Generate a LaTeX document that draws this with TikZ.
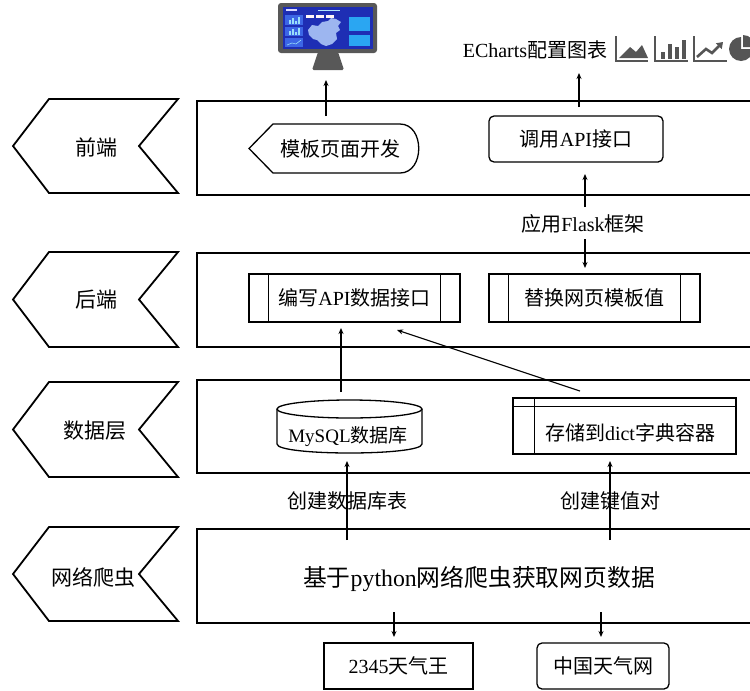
\documentclass[tikz,border=0pt]{standalone}
\usepackage{fontspec}
\setmainfont{Liberation Serif}
\newfontfamily\cjkfont{Noto Sans CJK SC}
\newcommand\zhtext[1]{{\cjkfont #1}}
\usetikzlibrary{arrows.meta}

\definecolor{monGray}{HTML}{585858}
\definecolor{screenBlue}{HTML}{1E2EB4}
\definecolor{panelBlue}{HTML}{3C66E6}
\definecolor{mapBlue}{HTML}{9DB6F0}
\definecolor{cyanPanel}{HTML}{2AA6F2}
\definecolor{iconGray}{HTML}{555555}

\begin{document}
\begin{tikzpicture}[x=1pt,y=-1pt,
  layerbox/.style={draw=black, line width=2.3pt},
  chevron/.style={draw=black, line width=1.8pt, line join=miter},
  itembox/.style={draw=black, line width=1.3pt},
  arr/.style={draw=black, line width=1.1pt, -{Stealth[length=6pt,width=5pt]}},
  lbl/.style={font=\fontsize{20}{22}\selectfont, inner sep=0pt},
  sidelbl/.style={font=\fontsize{21}{24}\cjkfont, inner sep=0pt},
  iconline/.style={draw=iconGray, line width=2pt}
]
\useasboundingbox (0,0) rectangle (750,691);

% ---------------- monitor icon ----------------
\fill[monGray, rounded corners=3pt] (278,3) rectangle (377,53);
\fill[screenBlue] (283,7) rectangle (373,49);
\fill[white!85!blue] (286,9) rectangle (297,11);
\fill[white!70!cyan] (318,9.5) rectangle (340,11);
\fill[white!85!pink] (306,15) rectangle (314,17.5);
\fill[white!85!pink] (316,15) rectangle (324,17.5);
\fill[white!85!pink] (326,15) rectangle (334,17.5);
\fill[panelBlue] (285,15) rectangle (303,25);
\fill[panelBlue] (285,27) rectangle (303,36);
\fill[panelBlue] (285,38) rectangle (303,47);
\foreach \bx/\bh in {289/4,292/6,295/3,298/7}{
  \fill[white!60!cyan] (\bx,24) rectangle (\bx+1.5,24-\bh);
  \fill[white!60!cyan] (\bx,35) rectangle (\bx+1.5,35-\bh);
}
\draw[white!60!cyan, line width=0.6pt] (287,45) -- (292,43) -- (296,44) -- (301,40);
\fill[mapBlue] (308,30) -- (312,25) -- (318,26) -- (322,22) -- (328,21) -- (331,18) -- (336,19)
  -- (341,22) -- (338,26) -- (340,30) -- (336,33) -- (337,39) -- (332,44) -- (326,46)
  -- (321,44) -- (317,40) -- (313,39) -- (309,35) -- cycle;
\fill[cyanPanel] (349,17) rectangle (370,31);
\fill[cyanPanel] (349,35) rectangle (370,46);
\fill[monGray, rounded corners=1.5pt] (318,52) -- (338,52) -- (344,70) -- (312,70) -- cycle;

% ---------------- chart icons ----------------
\node[lbl] (echarts) at (535,50) {ECharts\zhtext{配置图表}};
% area chart
\draw[iconline] (616,36) -- (616,61) -- (648,61);
\fill[iconGray] (619,58) -- (630,47) -- (636,52) -- (642,45) -- (648,58) -- cycle;
% bar chart
\draw[iconline] (655,36) -- (655,61) -- (688,61);
\foreach \bx/\bt in {661/52,668/44,675/47,682/40}{
  \fill[iconGray] (\bx,58.5) rectangle (\bx+4,\bt);
}
% line chart
\draw[iconline] (694,36) -- (694,61) -- (727,61);
\draw[draw=iconGray, line width=2.6pt, -{Triangle[length=6pt,width=8pt]}]
  (697,57) -- (706,49) -- (712,53) -- (723,42);
% pie chart
\fill[iconGray] (741,49) -- (741,37) arc[start angle=90, end angle=360, radius=12pt] -- cycle;
\fill[iconGray] (743,47) -- (755,47) arc[start angle=0, end angle=90, radius=12pt] -- cycle;

% ---------------- layer bands ----------------
\draw[layerbox] (197,101) rectangle (775,195);
\draw[layerbox] (197,253) rectangle (775,347);
\draw[layerbox] (197,380) rectangle (775,473);
\draw[layerbox] (197,529) rectangle (775,623);

% ---------------- side chevrons ----------------
\draw[chevron] (13,146) -- (49,99) -- (178,99) -- (139,146) -- (178,193) -- (49,193) -- cycle;
\node[sidelbl] (fe) at (96,147) {前端};
\draw[chevron] (13,299.5) -- (49,252) -- (178,252) -- (139,299.5) -- (178,347) -- (49,347) -- cycle;
\node[sidelbl] (be) at (96,300) {后端};
\draw[chevron] (13,429.5) -- (49,382) -- (178,382) -- (139,429.5) -- (178,477) -- (49,477) -- cycle;
\node[sidelbl] (dl) at (95,431) {数据层};
\draw[chevron] (13,574) -- (49,527) -- (178,527) -- (139,574) -- (178,621) -- (49,621) -- cycle;
\node[sidelbl] (cr) at (93,577) {网络爬虫};

% ---------------- front end ----------------
\draw[itembox] (249,148.5) -- (273,124) -- (400,124)
  .. controls (425,124) and (425,173) .. (400,173) -- (273,173) -- cycle;
\node[lbl] (tmpl) at (340,149) {\zhtext{模板页面开发}};
\node[itembox, lbl, rounded corners=5pt, minimum width=174pt, minimum height=46pt]
  (callapi) at (576,139) {\zhtext{调用}API\zhtext{接口}};

% ---------------- back end ----------------
\node[itembox, lbl, minimum width=211pt, minimum height=48pt]
  (writeapi) at (354.5,298) {\zhtext{编写}API\zhtext{数据接口}};
\draw[itembox] ([xshift=20pt]writeapi.north west) -- ([xshift=20pt]writeapi.south west);
\draw[itembox] ([xshift=-20pt]writeapi.north east) -- ([xshift=-20pt]writeapi.south east);
\node[itembox, lbl, minimum width=211pt, minimum height=48pt]
  (replace) at (594.5,298) {\zhtext{替换网页模板值}};
\draw[itembox] ([xshift=20pt]replace.north west) -- ([xshift=20pt]replace.south west);
\draw[itembox] ([xshift=-20pt]replace.north east) -- ([xshift=-20pt]replace.south east);
\node[lbl] (flask) at (583,224) {\zhtext{应用}Flask\zhtext{框架}};

% ---------------- data layer ----------------
\draw[itembox] (277,409) -- (277,444) .. controls (277,456) and (422,456) .. (422,444) -- (422,409);
\draw[itembox] (349.5,409) ellipse[x radius=72.5pt, y radius=9pt];
\node[lbl, font=\fontsize{19}{21}\selectfont] (mysql) at (348,437) {MySQL\zhtext{数据库}};
\node[itembox, minimum width=223pt, minimum height=56pt, inner sep=0pt] (dict) at (624.5,426) {};
\draw[itembox] ([yshift=-9pt]dict.north west) -- ([yshift=-9pt]dict.north east);
\draw[itembox] ([xshift=22pt]dict.north west) -- ([xshift=22pt]dict.south west);
\node[lbl] (dictlbl) at (630,433) {\zhtext{存储到}dict\zhtext{字典容器}};
\node[lbl] (mkdb) at (347,501) {\zhtext{创建数据库表}};
\node[lbl] (mkkv) at (610,501) {\zhtext{创建键值对}};

% ---------------- crawler ----------------
\node[font=\fontsize{23.8}{27}\selectfont, inner sep=0pt] (crawl) at (479,579)
  {\zhtext{基于}python\zhtext{网络爬虫获取网页数据}};
\node[itembox, lbl, minimum width=149pt, minimum height=46pt] (s2345) at (398.5,666) {2345\zhtext{天气王}};
\node[itembox, lbl, rounded corners=5pt, minimum width=132pt, minimum height=46pt]
  (cnw) at (603,666) {\zhtext{中国天气网}};

% ---------------- connectors ----------------
\coordinate (tmplTop) at (326,116);  \coordinate (monBase) at (326,80);
\coordinate (apiTop) at (579,107);   \coordinate (chartsBase) at (579,73);
\coordinate (flaskUp) at (585,207);  \coordinate (apiBottom) at (585,174);
\coordinate (flaskDn) at (585,239);  \coordinate (replaceTop) at (585,268);
\coordinate (mysqlTop) at (341,392); \coordinate (writeBottom) at (341,328);
\coordinate (dictTop) at (580,391);  \coordinate (writeBottomR) at (397,330);
\coordinate (crawlA) at (347,540);   \coordinate (mysqlBottom) at (347,461);
\coordinate (crawlB) at (610,540);   \coordinate (dictBottom) at (610,461);
\coordinate (crawlC) at (394,612);   \coordinate (s2345Top) at (394,637);
\coordinate (crawlD) at (601,612);   \coordinate (cnwTop) at (601,637);

\draw[arr] (tmplTop) -- (monBase);
\draw[arr] (apiTop) -- (chartsBase);
\draw[arr] (flaskUp) -- (apiBottom);
\draw[arr] (flaskDn) -- (replaceTop);
\draw[arr] (mysqlTop) -- (writeBottom);
\draw[arr] (dictTop) -- (writeBottomR);
\draw[arr] (crawlA) -- (mysqlBottom);
\draw[arr] (crawlB) -- (dictBottom);
\draw[arr] (crawlC) -- (s2345Top);
\draw[arr] (crawlD) -- (cnwTop);
\end{tikzpicture}
\end{document}
